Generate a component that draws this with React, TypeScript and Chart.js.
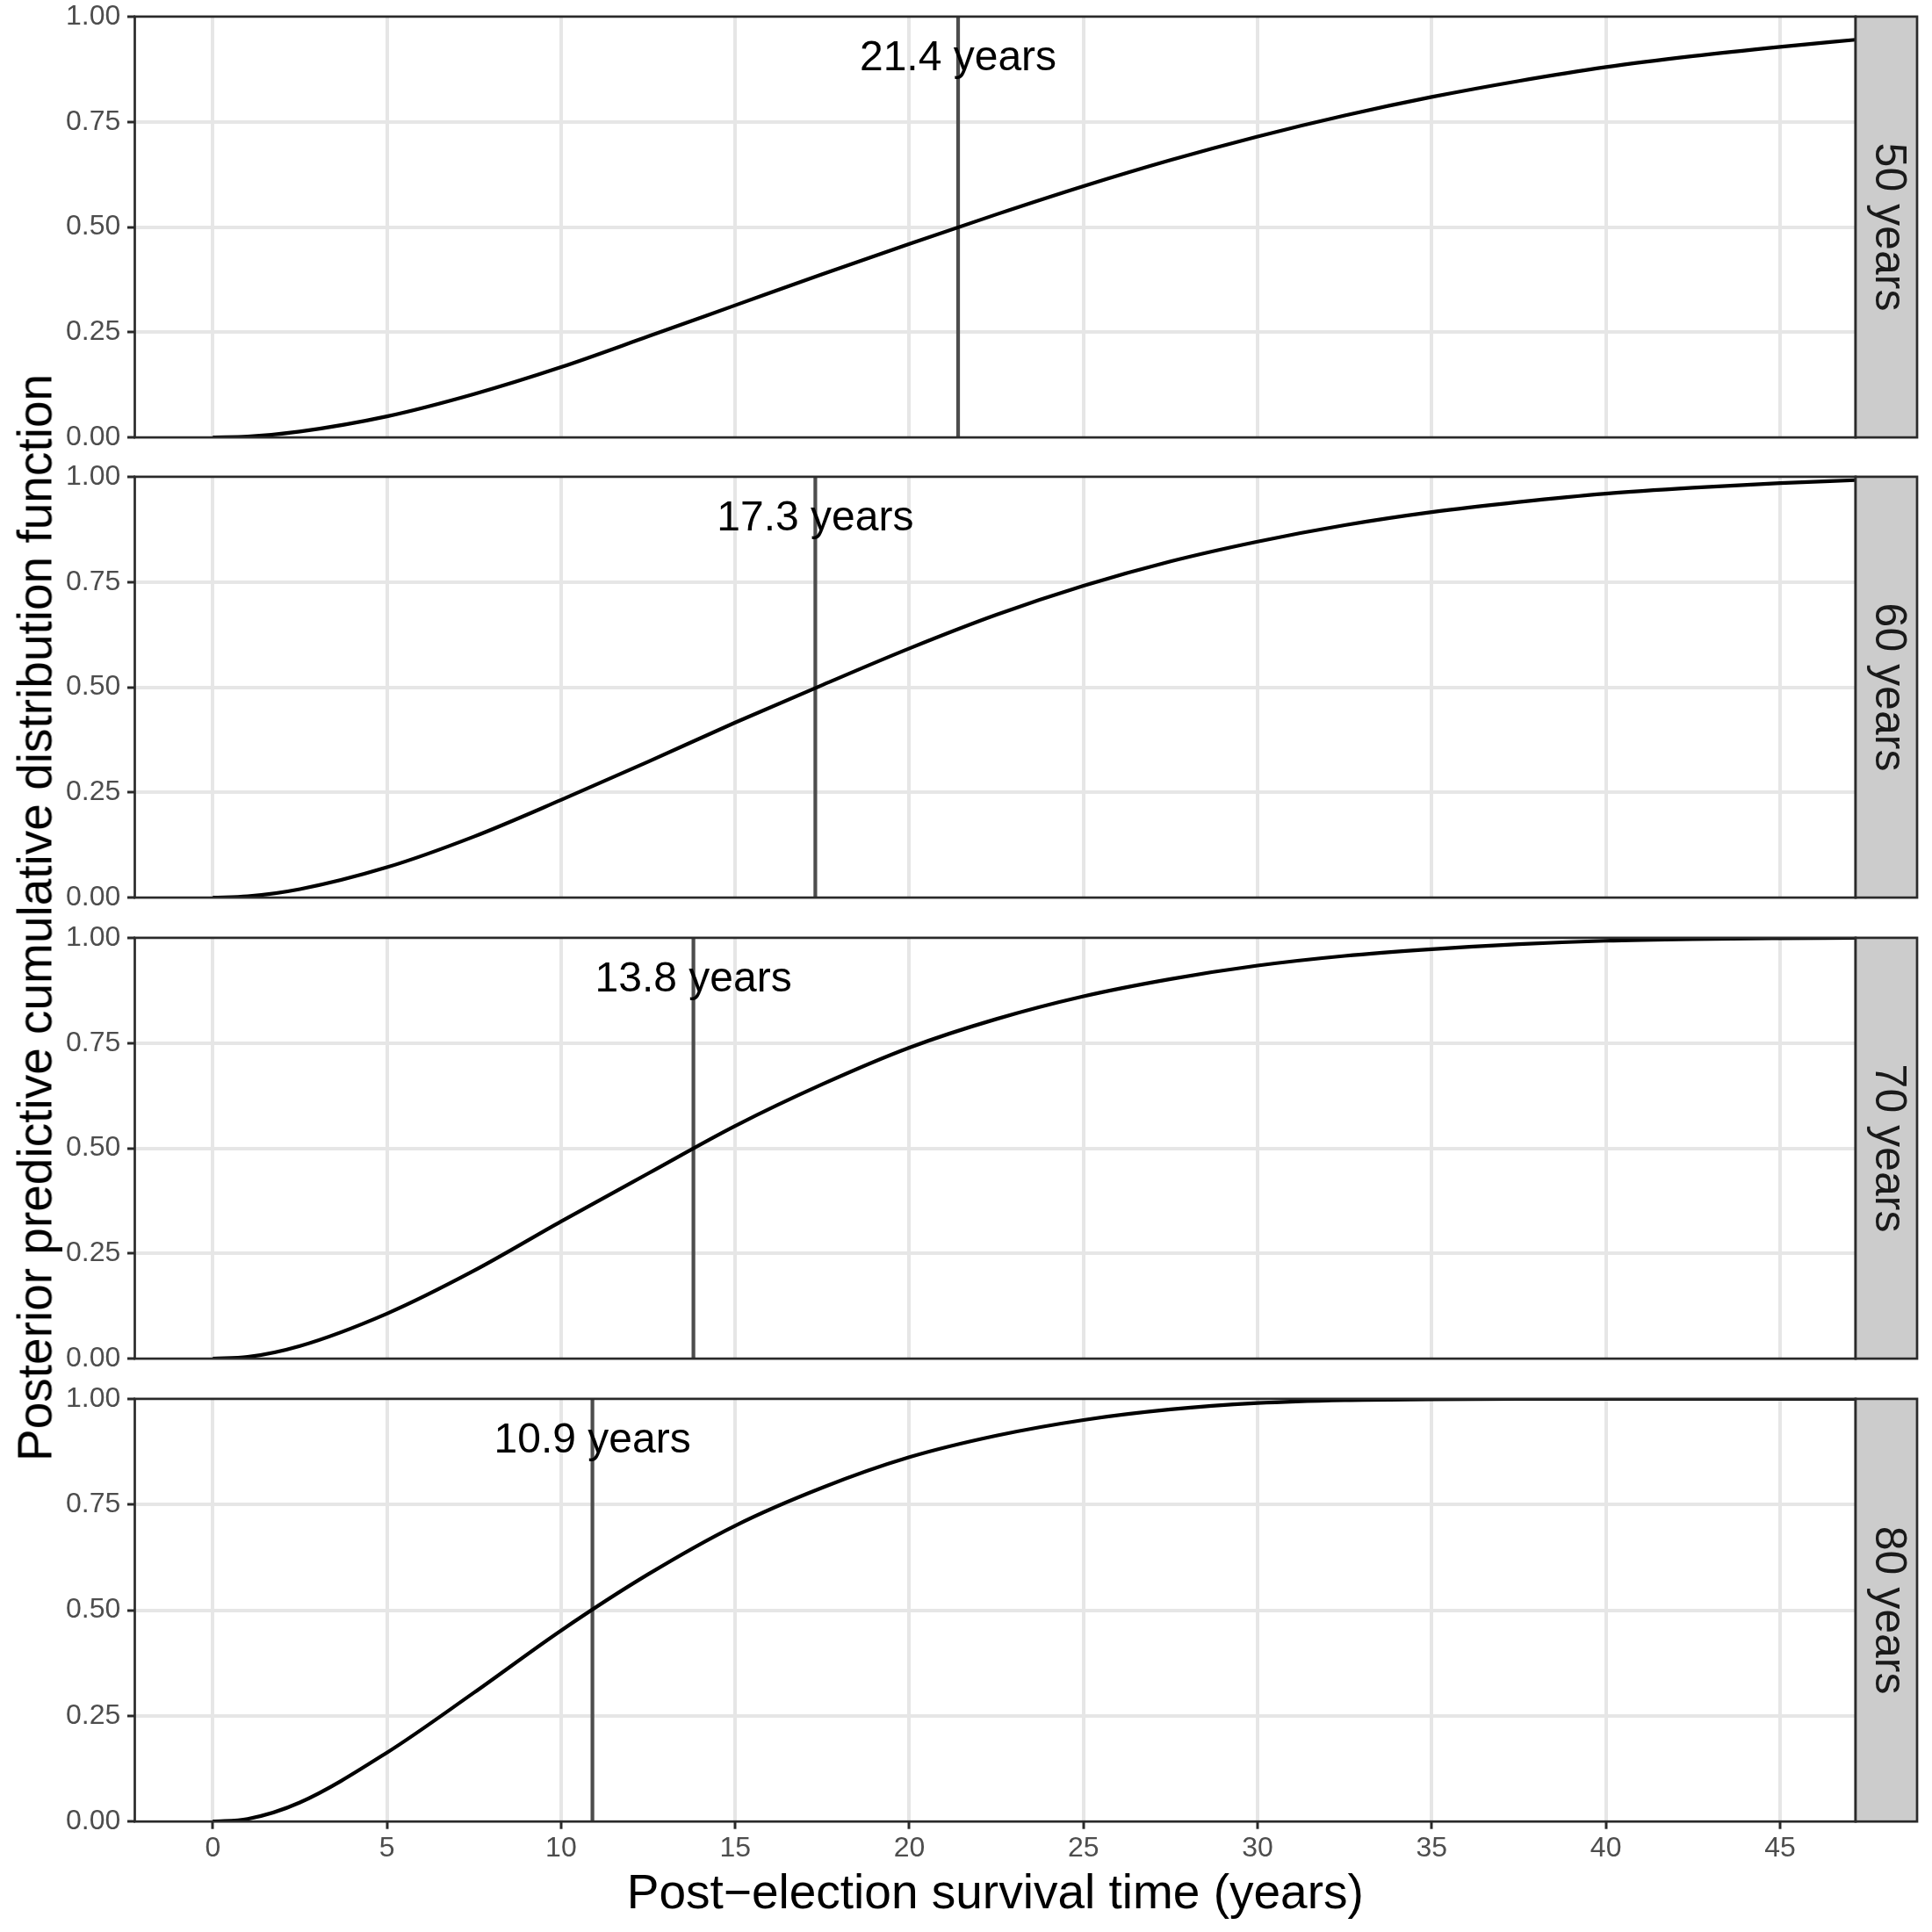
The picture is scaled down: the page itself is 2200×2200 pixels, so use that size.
import React, { useEffect, useRef } from "react";
import { Chart, registerables } from "chart.js";

Chart.register(...registerables);

// ---------- data ----------
const TIMES = [0, 1, 2.5, 5, 7.5, 10, 12.5, 15, 17.5, 20, 22.5, 25, 27.5, 30, 32.5, 35, 37.5, 40, 42.5, 45, 47.17];
const CDF_50 = [0, 0.002, 0.014, 0.05, 0.103, 0.167, 0.24, 0.314, 0.388, 0.46, 0.53, 0.597, 0.659, 0.715, 0.765, 0.809, 0.847, 0.88, 0.906, 0.928, 0.945];
const CDF_60 = [0, 0.003, 0.02, 0.072, 0.145, 0.232, 0.323, 0.416, 0.505, 0.592, 0.672, 0.741, 0.799, 0.846, 0.885, 0.916, 0.94, 0.96, 0.974, 0.985, 0.992];
const CDF_70 = [0, 0.004, 0.03, 0.107, 0.209, 0.326, 0.44, 0.553, 0.652, 0.739, 0.807, 0.861, 0.902, 0.934, 0.957, 0.973, 0.985, 0.993, 0.997, 0.999, 1.0];
const CDF_80 = [0, 0.006, 0.045, 0.163, 0.305, 0.452, 0.585, 0.7, 0.79, 0.862, 0.913, 0.95, 0.975, 0.99, 0.997, 0.999, 1.0, 1.0, 1.0, 1.0, 1.0];
const SERIES = [CDF_50, CDF_60, CDF_70, CDF_80];
const PANEL_LABELS = ["50 years", "60 years", "70 years", "80 years"];
const MEDIANS = [21.4, 17.3, 13.8, 10.9];
const MEDIAN_LABELS = ["21.4 years", "17.3 years", "13.8 years", "10.9 years"];
const LABEL_Y = 0.9;
const X_TICKS = [0, 5, 10, 15, 20, 25, 30, 35, 40, 45];
const Y_TICKS = [0, 0.25, 0.5, 0.75, 1];
const Y_TICK_LABELS = ["0.00", "0.25", "0.50", "0.75", "1.00"];
const X_MIN = -2.24;
const X_MAX = 47.17;
const X_TITLE = "Post\u2212election survival time (years)";
const Y_TITLE = "Posterior predictive cumulative distribution function";

// ---------- layout / style ----------
const W = 2200;
const H = 2200;
const FONT = "'Liberation Sans', Arial, Helvetica, sans-serif";
const PANEL_LEFT = 153.5;
const PANEL_RIGHT = 2113;
const STRIP_W = 70;
const PANEL_TOPS = [15.7, 540.3, 1065, 1589.8];
const PANEL_H = 484.4;
const PAD = 24;
const BORDER = "#2A2A2A";
const GRID = "#E6E6E6";

function makePlugin(i: number) {
  return {
    id: "panelDecor" + i,
    afterDatasetsDraw(chart: any) {
      const { ctx, chartArea, scales } = chart;
      const { left, right, top, bottom } = chartArea;
      const x = scales.x;
      const y = scales.y;
      ctx.save();
      // median annotation
      ctx.fillStyle = "#000000";
      ctx.font = `48px ${FONT}`;
      ctx.textAlign = "center";
      ctx.textBaseline = "middle";
      ctx.fillText(MEDIAN_LABELS[i], x.getPixelForValue(MEDIANS[i]), y.getPixelForValue(LABEL_Y));
      // panel border
      ctx.strokeStyle = BORDER;
      ctx.lineWidth = 2.7;
      ctx.strokeRect(left, top, right - left, bottom - top);
      // strip
      ctx.fillStyle = "#CCCCCC";
      ctx.fillRect(right, top, STRIP_W, bottom - top);
      ctx.strokeRect(right, top, STRIP_W, bottom - top);
      ctx.translate(right + STRIP_W / 2 + 1.5, (top + bottom) / 2);
      ctx.rotate(Math.PI / 2);
      ctx.fillStyle = "#1A1A1A";
      ctx.font = `50px ${FONT}`;
      ctx.textAlign = "center";
      ctx.textBaseline = "middle";
      ctx.fillText(PANEL_LABELS[i], 0, 0);
      ctx.restore();
    },
  };
}

function Panel({ index }: { index: number }) {
  const ref = useRef<HTMLCanvasElement | null>(null);
  const last = index === SERIES.length - 1;
  const panelTop = PANEL_TOPS[index];
  const canvasTop = Math.round(panelTop - PAD);
  const padTop = panelTop - canvasTop;
  const canvasH = last ? H - canvasTop : Math.ceil(padTop + PANEL_H + PAD);
  const padBottom = last ? 0 : canvasH - padTop - PANEL_H;
  const xAxisH = last ? canvasH - padTop - PANEL_H : 0;

  useEffect(() => {
    const canvas = ref.current;
    if (!canvas) return;
    const series = SERIES[index];
    const chart = new Chart(canvas, {
      type: "line",
      data: {
        datasets: [
          {
            data: TIMES.map((t, k) => ({ x: t, y: series[k] })),
            borderColor: "#000000",
            borderWidth: 4.2,
            pointRadius: 0,
            cubicInterpolationMode: "monotone",
            fill: false,
          } as any,
          {
            data: [
              { x: MEDIANS[index], y: 0 },
              { x: MEDIANS[index], y: 1 },
            ],
            borderColor: "#4D4D4D",
            borderWidth: 4.2,
            pointRadius: 0,
            fill: false,
          } as any,
        ],
      },
      options: {
        animation: false,
        responsive: false,
        devicePixelRatio: 1,
        events: [],
        layout: { padding: { left: 0, right: W - PANEL_RIGHT, top: padTop, bottom: padBottom } },
        plugins: { legend: { display: false }, tooltip: { enabled: false } },
        scales: {
          x: {
            type: "linear",
            min: X_MIN,
            max: X_MAX,
            afterBuildTicks: (s: any) => {
              s.ticks = X_TICKS.map((v) => ({ value: v }));
            },
            afterFit: (s: any) => {
              s.height = xAxisH;
            },
            grid: {
              color: GRID,
              lineWidth: 4,
              drawTicks: last,
              tickLength: 8.5,
              tickColor: BORDER,
              tickWidth: 3,
            },
            border: { display: false },
            ticks: {
              display: last,
              color: "#4D4D4D",
              font: { family: FONT, size: 32 },
              padding: 3.3,
              maxRotation: 0,
              autoSkip: false,
              callback: (v: any) => String(v),
            },
            title: {
              display: last,
              text: X_TITLE,
              color: "#000000",
              font: { family: FONT, size: 55 },
              padding: { top: 0, bottom: 9.5 },
            },
          },
          y: {
            type: "linear",
            min: 0,
            max: 1,
            afterBuildTicks: (s: any) => {
              s.ticks = Y_TICKS.map((v) => ({ value: v }));
            },
            afterFit: (s: any) => {
              s.width = PANEL_LEFT;
            },
            grid: {
              color: (c: any) =>
                c.tick && (c.tick.value === 0 || c.tick.value === 1) ? "rgba(0,0,0,0)" : GRID,
              lineWidth: 4,
              tickLength: 8.5,
              tickColor: BORDER,
              tickWidth: 3,
            },
            border: { display: false },
            ticks: {
              color: "#4D4D4D",
              font: { family: FONT, size: 32 },
              padding: 7.7,
              autoSkip: false,
              callback: (_v: any, i: number) => Y_TICK_LABELS[i],
            },
          },
        },
      } as any,
      plugins: [makePlugin(index)],
    });
    return () => chart.destroy();
  }, [index]);

  return (
    <canvas
      ref={ref}
      width={W}
      height={canvasH}
      style={{ position: "absolute", left: 0, top: canvasTop, width: W, height: canvasH }}
    />
  );
}

export default function App() {
  const panelsTop = PANEL_TOPS[0];
  const panelsBottom = PANEL_TOPS[PANEL_TOPS.length - 1] + PANEL_H;
  return (
    <div
      style={{
        position: "absolute",
        left: 0,
        top: 0,
        width: W,
        height: H,
        background: "#ffffff",
        overflow: "hidden",
      }}
    >
      {SERIES.map((_, i) => (
        <Panel key={i} index={i} />
      ))}
      <div
        style={{
          position: "absolute",
          left: 40,
          top: (panelsTop + panelsBottom) / 2,
          transform: "translate(-50%, -50%) rotate(-90deg)",
          whiteSpace: "nowrap",
          fontFamily: FONT,
          fontSize: 55,
          lineHeight: 1,
          color: "#000000",
        }}
      >
        {Y_TITLE}
      </div>
    </div>
  );
}
